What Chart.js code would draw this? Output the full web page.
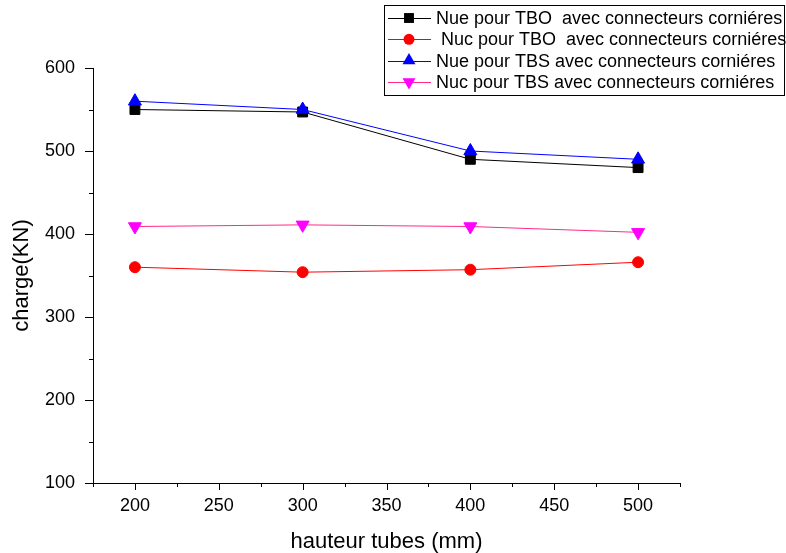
<!DOCTYPE html>
<html>
<head>
<meta charset="utf-8">
<script src="https://cdn.jsdelivr.net/npm/chart.js@4"></script>
<style>
  html, body { margin: 0; background: #fff; }
</style>
</head>
<body>
<canvas id="c" width="786" height="553"></canvas>
<script>
const hauteurs = [200, 300, 400, 500];
const nueTBO = [550, 547, 490, 480];
const nucTBO = [360, 354, 357, 366];
const nueTBS = [560, 550, 500, 490];
const nucTBS = [409, 411, 409, 402];
const seriesLabels = [
  'Nue pour TBO  avec connecteurs corniéres',
  ' Nuc pour TBO  avec connecteurs corniéres',
  'Nue pour TBS avec connecteurs corniéres',
  'Nuc pour TBS avec connecteurs corniéres',
];
const xTicks = { min: 175, max: 525, step: 25 };
const yTicks = { min: 100, max: 600, step: 50 };

const FONT = "'Liberation Sans', Arial, sans-serif";
Chart.defaults.font.family = FONT;
Chart.defaults.color = '#000';

const pts = arr => arr.map((v, i) => ({ x: hauteurs[i], y: v }));

function marker(ctx, style, x, y, r, color) {
  ctx.fillStyle = color;
  ctx.beginPath();
  if (style === 'rect') {
    const s = r * Math.SQRT1_2;
    ctx.rect(x - s, y - s, 2 * s, 2 * s);
  } else if (style === 'circle') {
    ctx.arc(x, y, r, 0, Math.PI * 2);
  } else {
    const d = style === 'down' ? -1 : 1;
    ctx.moveTo(x, y - d * r);
    ctx.lineTo(x + r * 0.866, y + d * r * 0.5);
    ctx.lineTo(x - r * 0.866, y + d * r * 0.5);
    ctx.closePath();
  }
  ctx.fill();
}

const boxLegend = {
  id: 'boxLegend',
  afterDraw(chart) {
    const ctx = chart.ctx;
    ctx.save();
    ctx.fillStyle = '#fff';
    ctx.fillRect(384.5, 5.5, 400, 90);
    ctx.strokeStyle = '#000';
    ctx.lineWidth = 1;
    ctx.strokeRect(384.5, 5.5, 400, 90);
    const styles = ['rect', 'circle', 'up', 'down'];
    const radii = [7, 5.5, 7.5, 7.5];
    chart.data.datasets.forEach((ds, i) => {
      const y = 18 + i * 21.3;
      ctx.strokeStyle = ds.borderColor;
      ctx.beginPath();
      ctx.moveTo(388, Math.round(y) + 0.5);
      ctx.lineTo(431, Math.round(y) + 0.5);
      ctx.stroke();
      marker(ctx, styles[i], 409, y, radii[i], ds.pointBackgroundColor);
      ctx.fillStyle = '#000';
      ctx.font = '18px ' + FONT;
      ctx.textBaseline = 'middle';
      ctx.fillText(ds.label, 436, y + 1);
    });
    ctx.restore();
  }
};

const tickMarks = {
  id: 'tickMarks',
  afterDraw(chart) {
    const ctx = chart.ctx, { x, y } = chart.scales;
    ctx.save();
    ctx.strokeStyle = '#000';
    ctx.lineWidth = 1;
    ctx.beginPath();
    x.ticks.forEach(t => {
      const px = Math.round(x.getPixelForValue(t.value)) + 0.5;
      const len = t.value % 50 === 0 ? 7 : 4;
      ctx.moveTo(px, x.top);
      ctx.lineTo(px, x.top + len);
    });
    y.ticks.forEach(t => {
      const py = Math.round(y.getPixelForValue(t.value)) + 0.5;
      const len = t.value % 100 === 0 ? 8 : 4;
      ctx.moveTo(y.right, py);
      ctx.lineTo(y.right - len, py);
    });
    ctx.stroke();
    ctx.restore();
  }
};

new Chart(document.getElementById('c'), {
  type: 'line',
  data: {
    datasets: [
      { label: seriesLabels[0], data: pts(nueTBO), borderColor: '#000', pointBackgroundColor: '#000', pointBorderColor: '#000',
        pointStyle: 'rect', pointRadius: 7, order: 3 },
      { label: seriesLabels[1], data: pts(nucTBO), borderColor: '#ff0000', pointBackgroundColor: '#ff0000', pointBorderColor: '#ff0000',
        pointStyle: 'circle', pointRadius: 5.5, order: 2 },
      { label: seriesLabels[2], data: pts(nueTBS), borderColor: '#0000ff', pointBackgroundColor: '#0000ff', pointBorderColor: '#0000ff',
        pointStyle: 'triangle', pointRadius: 7.5, order: 1 },
      { label: seriesLabels[3], data: pts(nucTBS), borderColor: '#ff2a8a', pointBackgroundColor: '#ff00ff', pointBorderColor: '#ff00ff',
        pointStyle: 'triangle', pointRotation: 180, pointRadius: 7.5, order: 0 },
    ].map(d => Object.assign({ borderWidth: 1, pointBorderWidth: 1, tension: 0, fill: false }, d)),
  },
  options: {
    responsive: false,
    animation: false,
    layout: { padding: { top: 68, right: 106, left: 0, bottom: 0 } },
    plugins: { legend: { display: false }, tooltip: { enabled: false } },
    scales: {
      x: {
        type: 'linear', min: xTicks.min, max: xTicks.max,
        afterFit: s => { s.height = 70; },
        grid: { display: false, drawTicks: false },
        border: { display: true, color: '#000', width: 1 },
        ticks: { stepSize: xTicks.step, autoSkip: false, maxRotation: 0, padding: 12,
          font: { size: 18 }, color: '#000', callback: v => v % 50 === 0 ? v : '' },
        title: { display: true, text: 'hauteur tubes (mm)', font: { size: 22, lineHeight: 1 }, color: '#000', padding: { top: 1, bottom: 0 } },
      },
      y: {
        min: yTicks.min, max: yTicks.max,
        afterFit: s => { s.width = 93; },
        grid: { display: false, drawTicks: false },
        border: { display: true, color: '#000', width: 1 },
        ticks: { stepSize: yTicks.step, autoSkip: false, padding: 18,
          font: { size: 18 }, color: '#000', callback: v => v % 100 === 0 ? v : '' },
        title: { display: true, text: 'charge(KN)', font: { size: 22, lineHeight: 1 }, color: '#000', padding: { top: 11, bottom: 0 } },
      },
    },
  },
  plugins: [tickMarks, boxLegend],
});
</script>
</body>
</html>
